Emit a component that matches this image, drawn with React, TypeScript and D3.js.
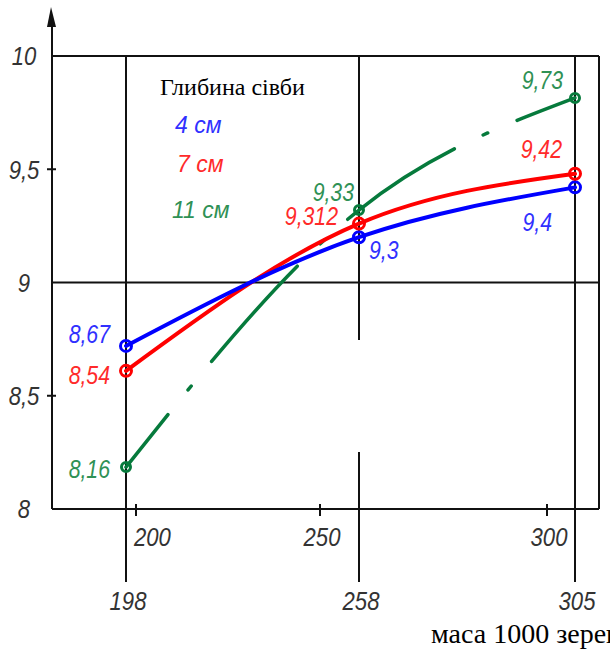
import React from "react";
import * as d3 from "d3";

// ---- data ----
const massCats = [198, 258, 305];
const auxTicks = [200, 250, 300];
const yTicks = [10, 9.5, 9, 8.5, 8];
const depthNames = ["4 см", "7 см", "11 см"];
const blueValues = [8.72, 9.2, 9.42];
const redValues = [8.61, 9.26, 9.48];
const greenValues = [8.185, 9.32, 9.815];
const blueLabels = ["8,67", "9,3", "9,4"];
const redLabels = ["8,54", "9,312", "9,42"];
const greenLabels = ["8,16", "9,33", "9,73"];

// ---- layout ----
const W = 610;
const H = 655;
const left = 52;
const right = 599;
const top = 56;
const bottom = 509;
const vLineEnd = 582;

const yScale = d3.scaleLinear().domain([8, 10]).range([bottom, top]);
// hand-drawn, non-uniform abscissa: piecewise-linear scale
const xScale = d3
  .scaleLinear()
  .domain([198, 200, 250, 258, 300, 305])
  .range([126, 136, 320, 359, 547, 575]);

const locale = d3.formatLocale({ decimal: ",", thousands: " ", grouping: [3], currency: ["", ""] });
const fmt = (v: number) => locale.format("~g")(v);

const lineGen = d3
  .line<number>()
  .x((_, i) => xScale(massCats[i]))
  .y((d) => yScale(d))
  .curve(d3.curveMonotoneX);

const series = [
  { name: depthNames[0], values: blueValues, labels: blueLabels, line: "#0000ff", text: "#3030ff", width: 4, dash: undefined as string | undefined, r: 5.5 },
  { name: depthNames[1], values: redValues, labels: redLabels, line: "#ff0000", text: "#ff2a2a", width: 4, dash: undefined as string | undefined, r: 5.5 },
  { name: depthNames[2], values: greenValues, labels: greenLabels, line: "#067a3c", text: "#2f9155", width: 3.5, dash: "128 32 5 32", r: 4.5 },
];

const labelOffsets = [
  [ { dx: -16, dy: -12, a: "end" }, { dx: 10, dy: 13, a: "start" }, { dx: -23, dy: 35, a: "end" } ],
  [ { dx: -16, dy: 4, a: "end" }, { dx: -21, dy: -8, a: "end" }, { dx: -13, dy: -25, a: "end" } ],
  [ { dx: -16, dy: 2, a: "end" }, { dx: -5, dy: -18, a: "end" }, { dx: -12, dy: -18, a: "end" } ],
];

const sans = "'Liberation Sans', Arial, sans-serif";
const serif = "'Liberation Serif', 'Times New Roman', serif";

function NarrowText(props: { x: number; cy: number; size: number; fill: string; anchor: string; children: React.ReactNode }) {
  const { x, cy, size, fill, anchor, children } = props;
  const base = cy + 0.358 * size;
  return (
    <text
      transform={`translate(${x},${base}) scale(0.85,1)`}
      fontFamily={sans}
      fontStyle="italic"
      fontSize={size}
      fill={fill}
      textAnchor={anchor as any}
    >
      {children}
    </text>
  );
}

export default function App() {
  const axisColor = "#111";
  const tickColor = "#333";
  return (
    <svg width={W} height={H} style={{ position: "absolute", left: 0, top: 0, background: "#fff" }}>
      <rect x={0} y={0} width={W} height={H} fill="#fff" />
      {/* frame & grid */}
      <g stroke={axisColor} strokeWidth={2} fill="none">
        {[10, 9, 8].map((v) => (
          <line key={v} x1={left} x2={right} y1={yScale(v)} y2={yScale(v)} />
        ))}
        <line x1={right} x2={right} y1={top} y2={bottom} />
        <line x1={left} x2={left} y1={24} y2={bottom} />
        {massCats.map((c) =>
          c === 258 ? (
            <g key={c}>
              <line x1={xScale(c)} x2={xScale(c)} y1={top} y2={340} />
              <line x1={xScale(c)} x2={xScale(c)} y1={452} y2={vLineEnd} />
            </g>
          ) : (
            <line key={c} x1={xScale(c)} x2={xScale(c)} y1={top} y2={vLineEnd} />
          )
        )}
        {[9.5, 8.5].map((v) => (
          <line key={v} x1={left - 5} x2={left + 4} y1={yScale(v)} y2={yScale(v)} />
        ))}
        {auxTicks.map((t) => (
          <line key={t} x1={xScale(t)} x2={xScale(t)} y1={bottom - 5} y2={bottom + 7} />
        ))}
      </g>
      <polygon points={`${left - 1},7 ${left - 5},27 ${left + 4},27`} fill={axisColor} />

      {/* y tick labels */}
      {yTicks.map((v) => (
        <NarrowText key={v} x={24} cy={yScale(v)} size={26} fill={tickColor} anchor="middle">
          {fmt(v)}
        </NarrowText>
      ))}
      {/* top-of-axis aux ticks */}
      {auxTicks.map((t, i) => (
        <NarrowText key={t} x={i === 0 ? xScale(t) - 2 : xScale(t) + 2} cy={537} size={26} fill={tickColor} anchor={i === 0 ? "start" : "middle"}>
          {t}
        </NarrowText>
      ))}
      {/* category labels */}
      {massCats.map((c) => (
        <NarrowText key={c} x={xScale(c) + 2} cy={601} size={26} fill={tickColor} anchor="middle">
          {c}
        </NarrowText>
      ))}

      {/* series lines */}
      {series
        .slice()
        .reverse()
        .map((s) => (
          <path
            key={s.name}
            d={lineGen(s.values) || ""}
            fill="none"
            stroke={s.line}
            strokeWidth={s.width}
            strokeDasharray={s.dash}
            strokeDashoffset={s.dash ? 61 : undefined}
            strokeLinecap="round"
          />
        ))}
      {series.map((s) =>
        s.values.map((v, i) => (
          <circle key={s.name + i} cx={xScale(massCats[i])} cy={yScale(v)} r={s.r} fill="none" stroke={s.line} strokeWidth={3} />
        ))
      )}
      {/* value labels */}
      {series.map((s, si) =>
        s.labels.map((lab, i) => {
          const o = labelOffsets[si][i];
          return (
            <NarrowText key={s.name + "l" + i} x={xScale(massCats[i]) + o.dx} cy={yScale(s.values[i]) + o.dy} size={25} fill={s.text} anchor={o.a}>
              {lab}
            </NarrowText>
          );
        })
      )}

      {/* legend */}
      <text x={160} y={95} fontFamily={serif} fontSize={24} fill="#000">
        Глибина сівби
      </text>
      {series.map((s, i) => (
        <text key={s.name} x={[175, 177, 172][i]} y={[133, 172, 218][i]} fontFamily={sans} fontStyle="italic" fontSize={23} fill={s.text}>
          {s.name}
        </text>
      ))}

      {/* axis title */}
      <text x={431} y={643} fontFamily={serif} fontSize={28} fill="#000">
        маса 1000 зерен
      </text>
    </svg>
  );
}
